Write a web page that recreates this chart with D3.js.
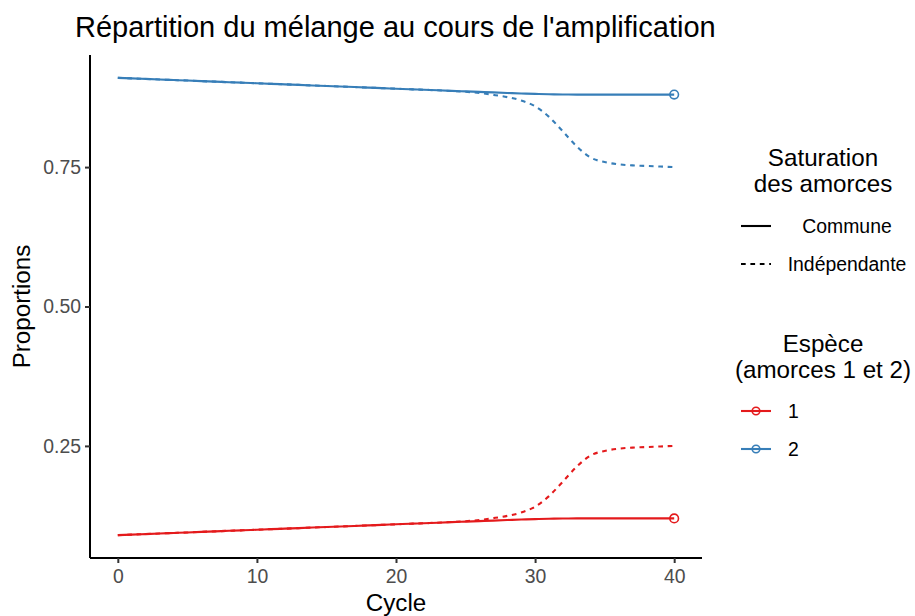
<!DOCTYPE html>
<html>
<head>
<meta charset="utf-8">
<script src="https://cdn.jsdelivr.net/npm/d3@7"></script>
<style>
  html, body { margin: 0; padding: 0; background: #fff; }
  svg { display: block; font-family: "Liberation Sans", Arial, Helvetica, sans-serif; }
</style>
</head>
<body>
<svg id="chart" width="915" height="616"></svg>
<script>
// PCR cycles
const cycles = [0,1,2,3,4,5,6,7,8,9,10,11,12,13,14,15,16,17,18,19,20,
                21,22,23,24,25,26,27,28,29,30,31,32,33,34,35,36,37,38,39,40];

// Proportion of species 1 and 2, shared primer saturation ("Commune")
const commune1 = [0.0900,0.0910,0.0919,0.0929,0.0939,0.0948,0.0958,0.0968,0.0978,0.0987,0.0997,
                  0.1007,0.1016,0.1026,0.1036,0.1045,0.1055,0.1065,0.1075,0.1084,0.1094,
                  0.1104,0.1113,0.1123,0.1133,0.1142,0.1152,0.1161,0.1171,0.1180,0.1188,
                  0.1194,0.1198,0.1200,0.1200,0.1200,0.1200,0.1200,0.1200,0.1200,0.1200];
const commune2 = [0.9100,0.9090,0.9081,0.9071,0.9061,0.9052,0.9042,0.9032,0.9022,0.9013,0.9003,
                  0.8993,0.8984,0.8974,0.8964,0.8955,0.8945,0.8935,0.8925,0.8916,0.8906,
                  0.8896,0.8887,0.8877,0.8867,0.8858,0.8848,0.8839,0.8829,0.8820,0.8812,
                  0.8806,0.8802,0.8800,0.8800,0.8800,0.8800,0.8800,0.8800,0.8800,0.8800];

// Independent primer saturation ("Indépendante")
const indep1 = [0.0900,0.0910,0.0919,0.0929,0.0939,0.0948,0.0958,0.0968,0.0978,0.0987,0.0997,
                0.1007,0.1016,0.1026,0.1036,0.1045,0.1055,0.1065,0.1075,0.1084,0.1094,
                0.1104,0.1113,0.1123,0.1135,0.1150,0.1172,0.1205,0.1245,0.1305,0.1410,
                0.1600,0.1860,0.2130,0.2330,0.2410,0.2450,0.2470,0.2480,0.2490,0.2500];
const indep2 = [0.9100,0.9090,0.9081,0.9071,0.9061,0.9052,0.9042,0.9032,0.9022,0.9013,0.9003,
                0.8993,0.8984,0.8974,0.8964,0.8955,0.8945,0.8935,0.8925,0.8916,0.8906,
                0.8896,0.8887,0.8877,0.8865,0.8850,0.8828,0.8795,0.8755,0.8695,0.8590,
                0.8400,0.8140,0.7870,0.7670,0.7590,0.7550,0.7530,0.7520,0.7510,0.7500];

const xTicks = [0, 10, 20, 30, 40];
const yTicks = [0.25, 0.50, 0.75];

const speciesLabels = ["1", "2"];
const speciesColors = ["#E41A1C", "#377EB8"];
const saturationLabels = ["Commune", "Indépendante"];
const saturationDash = [null, "4.7 4.7"];

const series = [
  { species: 0, sat: 0, values: commune1 },
  { species: 1, sat: 0, values: commune2 },
  { species: 0, sat: 1, values: indep1 },
  { species: 1, sat: 1, values: indep2 }
];

const FS_TICK = 19.4, FS_AXIS = 24.2, FS_TITLE = 29;

const svg = d3.select("#chart");
const panel = { left: 90, right: 702, top: 55, bottom: 558 };

// ggplot-style 5% expansion on both axes
const xExt = d3.extent(cycles);
const xPad = (xExt[1] - xExt[0]) * 0.05;
const x = d3.scaleLinear().domain([xExt[0] - xPad, xExt[1] + xPad]).range([panel.left, panel.right]);

const allVals = series.flatMap(s => s.values);
const yExt = d3.extent(allVals);
const yPad = (yExt[1] - yExt[0]) * 0.05;
const y = d3.scaleLinear().domain([yExt[0] - yPad, yExt[1] + yPad]).range([panel.bottom, panel.top]);

// Title
svg.append("text")
  .attr("x", 75).attr("y", 37)
  .attr("font-size", FS_TITLE).attr("fill", "#000")
  .text("Répartition du mélange au cours de l'amplification");

// Lines
const line = d3.line()
  .x((d, i) => x(cycles[i]))
  .y(d => y(d))
  .curve(d3.curveMonotoneX);

const lines = svg.append("g");
[2, 3, 0, 1].forEach(k => {
  const s = series[k];
  lines.append("path")
    .attr("d", line(s.values))
    .attr("fill", "none")
    .attr("stroke", speciesColors[s.species])
    .attr("stroke-width", 2.1)
    .attr("stroke-dasharray", saturationDash[s.sat]);
});

// End-point markers on the shared-saturation curves
series.filter(s => s.sat === 0).forEach(s => {
  const last = cycles.length - 1;
  svg.append("circle")
    .attr("cx", x(cycles[last]))
    .attr("cy", y(s.values[last]))
    .attr("r", 4.3)
    .attr("fill", "none")
    .attr("stroke", speciesColors[s.species])
    .attr("stroke-width", 1.6);
});

// Axes
const xAxis = svg.append("g").attr("transform", `translate(0,${panel.bottom})`)
  .call(d3.axisBottom(x).tickValues(xTicks).tickSize(5).tickPadding(4).tickFormat(d3.format("d")));
const yAxis = svg.append("g").attr("transform", `translate(${panel.left},0)`)
  .call(d3.axisLeft(y).tickValues(yTicks).tickSize(5).tickPadding(4).tickFormat(d3.format(".2f")));

[xAxis, yAxis].forEach(g => {
  g.select(".domain").attr("stroke", "#000").attr("stroke-width", 2).attr("d",
    g === xAxis ? `M${panel.left},0H${panel.right}` : `M0,${panel.bottom}V${panel.top}`);
  g.selectAll(".tick line").attr("stroke", "#333").attr("stroke-width", 2);
  g.selectAll(".tick text").attr("fill", "#4d4d4d").attr("font-size", FS_TICK)
    .attr("font-family", "Liberation Sans, Arial, sans-serif");
});
xAxis.selectAll(".tick text").attr("dy", "0.8em");

// Axis titles
svg.append("text")
  .attr("x", (panel.left + panel.right) / 2).attr("y", 611)
  .attr("text-anchor", "middle").attr("font-size", FS_AXIS).text("Cycle");
svg.append("text")
  .attr("transform", `translate(30,${(panel.top + panel.bottom) / 2}) rotate(-90)`)
  .attr("text-anchor", "middle").attr("font-size", FS_AXIS).text("Proportions");

// Legend: saturation (linetype)
const lg = svg.append("g");
const titleX = 823;
lg.append("text").attr("x", titleX).attr("y", 166).attr("text-anchor", "middle")
  .attr("font-size", FS_AXIS).text("Saturation");
lg.append("text").attr("x", titleX).attr("y", 192).attr("text-anchor", "middle")
  .attr("font-size", FS_AXIS).text("des amorces");

const satY = [226, 264];
saturationLabels.forEach((lab, i) => {
  lg.append("line").attr("x1", 741).attr("x2", 771).attr("y1", satY[i]).attr("y2", satY[i])
    .attr("stroke", "#000").attr("stroke-width", 2.1)
    .attr("stroke-dasharray", saturationDash[i]);
  lg.append("text").attr("x", 847).attr("y", satY[i] + 6.8).attr("text-anchor", "middle")
    .attr("font-size", FS_TICK).text(lab);
});

// Legend: species (colour)
lg.append("text").attr("x", titleX).attr("y", 352).attr("text-anchor", "middle")
  .attr("font-size", FS_AXIS).text("Espèce");
lg.append("text").attr("x", titleX).attr("y", 378).attr("text-anchor", "middle")
  .attr("font-size", FS_AXIS).text("(amorces 1 et 2)");

const spY = [411, 449];
speciesLabels.forEach((lab, i) => {
  lg.append("line").attr("x1", 741).attr("x2", 771).attr("y1", spY[i]).attr("y2", spY[i])
    .attr("stroke", speciesColors[i]).attr("stroke-width", 2.1);
  lg.append("circle").attr("cx", 756).attr("cy", spY[i]).attr("r", 3.8)
    .attr("fill", "none").attr("stroke", speciesColors[i]).attr("stroke-width", 1.6);
  lg.append("text").attr("x", 788).attr("y", spY[i] + 6.8)
    .attr("font-size", FS_TICK).text(lab);
});
</script>
</body>
</html>
